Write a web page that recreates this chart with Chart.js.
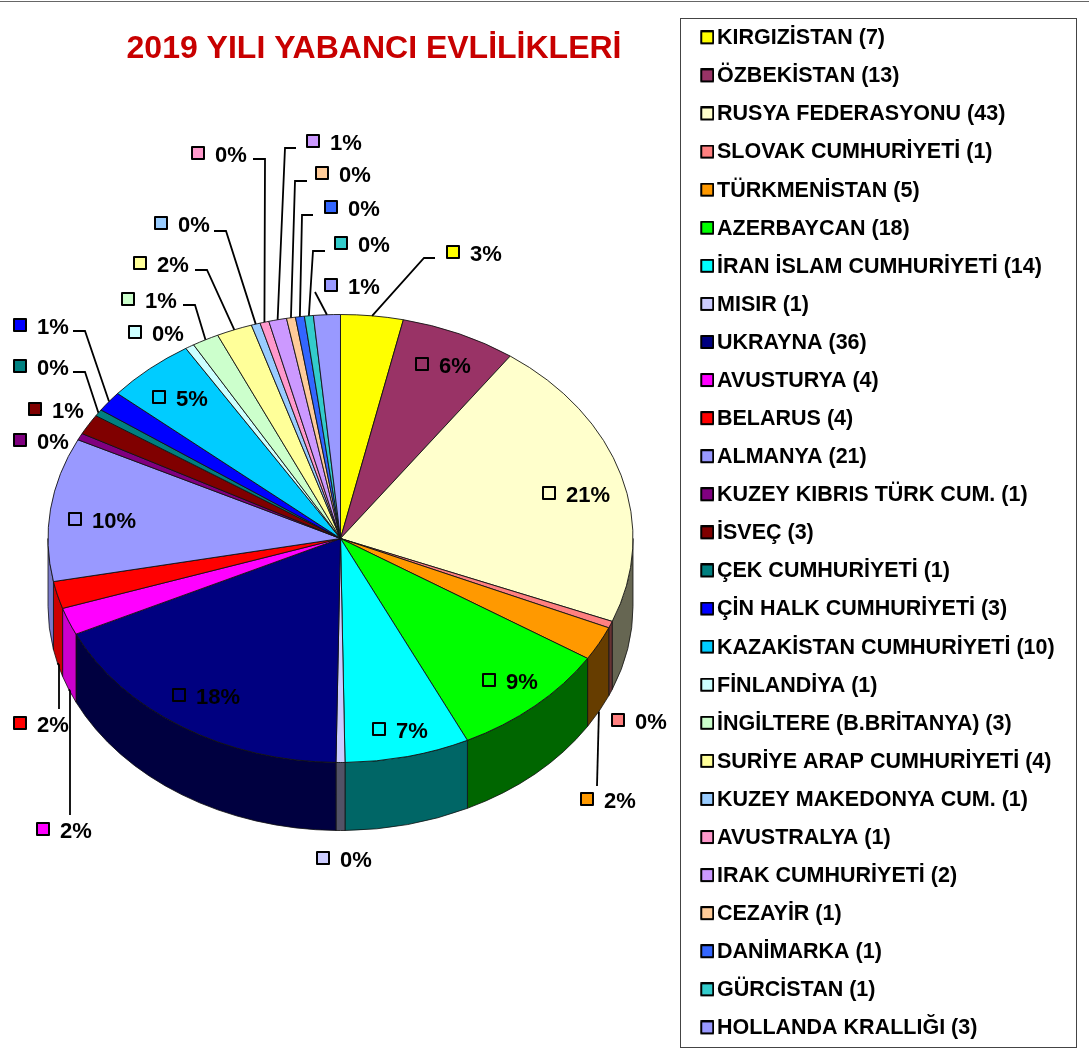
<!DOCTYPE html>
<html>
<head>
<meta charset="utf-8">
<style>html,body{margin:0;padding:0;background:#fff}canvas{display:block}</style>
<script src="https://cdn.jsdelivr.net/npm/chart.js@4"></script>
</head>
<body>
<canvas id="c" width="1089" height="1053"></canvas>
<script>
const categories = ["KIRGIZİSTAN","ÖZBEKİSTAN","RUSYA FEDERASYONU","SLOVAK CUMHURİYETİ","TÜRKMENİSTAN","AZERBAYCAN","İRAN İSLAM CUMHURİYETİ","MISIR","UKRAYNA","AVUSTURYA","BELARUS","ALMANYA","KUZEY KIBRIS TÜRK CUM.","İSVEÇ","ÇEK CUMHURİYETİ","ÇİN HALK CUMHURİYETİ","KAZAKİSTAN CUMHURİYETİ","FİNLANDİYA","İNGİLTERE (B.BRİTANYA)","SURİYE ARAP CUMHURİYETİ","KUZEY MAKEDONYA CUM.","AVUSTRALYA","IRAK CUMHURİYETİ","CEZAYİR","DANİMARKA","GÜRCİSTAN","HOLLANDA KRALLIĞI"];
const values = [7,13,43,1,5,18,14,1,36,4,4,21,1,3,1,3,10,1,3,4,1,1,2,1,1,1,3];
const colors = ["#FFFF00","#993366","#FFFFCC","#FF8080","#FF9900","#00FF00","#00FFFF","#CCCCFF","#000080","#FF00FF","#FF0000","#9999FF","#800080","#800000","#008080","#0000FF","#00CCFF","#CCFFFF","#CCFFCC","#FFFF99","#99CCFF","#FF99CC","#CC99FF","#FFCC99","#3366FF","#33CCCC","#9999FF"];
const titleText = "2019 YILI YABANCI EVLİLİKLERİ";
// annotation placement: key-square centres of the percentage labels
const labelKeys = [[453,252],[422,364],[549,493],[618,720],[587,799],[489,680],[379,729],[323,858],[179,695],[43,829],[20,723],[75,519],[20,440],[35,409],[20,366],[20,325],[159,397],[135,332],[128,299],[140,263],[161,223],[198,153],[313,141],[322,173],[331,207],[341,243],[331,285]];
// annotation placement: leader line waypoints after the slice edge
const leaderPaths = {0:[[424,258],[435,258]],4:[[597,786]],9:[[70,691],[70,815]],10:[[59,665],[59,709]],14:[[85,372],[73,372]],15:[[85,331],[73,331]],18:[[195,305],[183,305]],19:[[207,270],[195,270]],20:[[226,231],[214,231]],21:[[265,159],[253,159]],22:[[285,148],[296,148]],23:[[295,181],[307,181]],24:[[302,215],[313,215]],25:[[313,251],[325,251]],26:[[315,292]]};
const view = {cx:340.5, cy:538.5, rx:292.5, ry:224, depth:68};

function shade(hex, f){
  const n = parseInt(hex.slice(1),16);
  return `rgb(${Math.round((n>>16&255)*f)},${Math.round((n>>8&255)*f)},${Math.round((n&255)*f)})`;
}
function makeKey(color){
  const k = document.createElement('canvas'); k.width = 17; k.height = 16;
  const g = k.getContext('2d');
  g.fillStyle = color; g.fillRect(4,1,12,12);
  g.strokeStyle = '#000'; g.lineWidth = 2; g.lineJoin='round'; g.strokeRect(4,1,12,12);
  return k;
}
const keys = colors.map(makeKey);
const total = values.reduce((a,b)=>a+b,0);

const pie3d = {
  id:'pie3d',
  beforeLayout(chart){
    const l = chart.legend;
    if (!l._tallFit){
      const fit = l.fit;
      l.fit = function(){ this.maxHeight = 1100; fit.call(this); };
      l._tallFit = true;
    }
  },
  afterLayout(chart){
    const l = chart.legend; const w = l.right-l.left;
    l.left = 688.67; l.right = l.left+w; l.top = 11; l.bottom = 1100;
    const t = chart.titleBlock; t.left = 0; t.right = 748; const th = t.bottom-t.top; t.top = 0; t.bottom = th;
  },
  beforeDraw(chart){
    const c = chart.ctx; c.save();
    c.fillStyle = '#fff'; c.fillRect(0,0,1089,1053);
    c.fillStyle = '#666'; c.fillRect(0,1,1089,1);
    c.strokeStyle = '#444'; c.lineWidth = 1; c.strokeRect(680.5,18.5,396,1029);
    c.restore();
  },
  beforeDatasetsDraw(chart){
    const c = chart.ctx, v = view, arcs = chart.getDatasetMeta(0).data;
    c.save();
    arcs.forEach((a,i)=>{
      const s = Math.max(a.startAngle,0), e = Math.min(a.endAngle,Math.PI);
      if (e<=s) return;
      const theta = ((a.startAngle+a.endAngle)/2 + Math.PI/2)*180/Math.PI; // clockwise from top
      const f = theta<200 ? 0.4 : theta<230 ? 0.5 : 0.8;
      c.beginPath();
      c.ellipse(v.cx,v.cy,v.rx,v.ry,0,s,e);
      c.ellipse(v.cx,v.cy+v.depth,v.rx,v.ry,0,e,s,true);
      c.closePath();
      c.fillStyle = shade(colors[i],f); c.fill();
      c.strokeStyle = '#111'; c.lineWidth = 0.8; c.stroke();
    });
    c.restore();
    const a0 = arcs[0];
    c.save();
    c.translate(v.cx,v.cy); c.scale(1,v.ry/v.rx); c.translate(-a0.x,-a0.y);
  },
  afterDatasetsDraw(chart){
    const c = chart.ctx, v = view, arcs = chart.getDatasetMeta(0).data;
    c.restore();
    c.save();
    c.strokeStyle = '#000'; c.lineWidth = 1.8;
    Object.keys(leaderPaths).forEach(k=>{
      const a = arcs[k], m = (a.startAngle+a.endAngle)/2;
      const x = v.cx+v.rx*Math.cos(m), y = v.cy+v.ry*Math.sin(m)+(Math.sin(m)>0?v.depth:0);
      c.beginPath(); c.moveTo(x,y);
      leaderPaths[k].forEach(p=>c.lineTo(p[0],p[1]));
      c.stroke();
    });
    c.font = 'bold 22px "Liberation Sans", Arial, sans-serif';
    c.textBaseline = 'middle'; c.textAlign = 'left';
    values.forEach((val,i)=>{
      const [x,y] = labelKeys[i];
      c.drawImage(keys[i],x-10,y-7);
      c.fillStyle = '#000';
      c.fillText(Math.round(val/total*100)+'%',x+17,y+2.5);
    });
    c.restore();
  }
};

new Chart(document.getElementById('c'),{
  type:'pie',
  data:{labels:categories.map((n,i)=>`${n} (${values[i]})`),
    datasets:[{data:values,backgroundColor:colors,borderColor:'#111',borderWidth:1,radius:view.rx}]},
  options:{
    responsive:false, animation:false,
    layout:{padding:{top:9,right:14}},
    plugins:{
      tooltip:{enabled:false},
      title:{display:true,text:titleText,color:'#C80000',align:'center',
        font:{family:'"Liberation Sans", Arial, sans-serif',weight:'bold',size:32},
        padding:{top:30,bottom:0}},
      legend:{position:'right',align:'start',
        labels:{
          color:'#000',boxWidth:1,padding:16.58,usePointStyle:true,
          font:{family:'"Liberation Sans", Arial, sans-serif',weight:'bold',size:21.5},
          generateLabels(chart){
            return chart.data.labels.map((t,i)=>({text:t,fillStyle:colors[i],strokeStyle:'#000',lineWidth:2,pointStyle:keys[i],hidden:false,index:i}));
          }
        }
      }
    }
  },
  plugins:[pie3d]
});
</script>
</body>
</html>
